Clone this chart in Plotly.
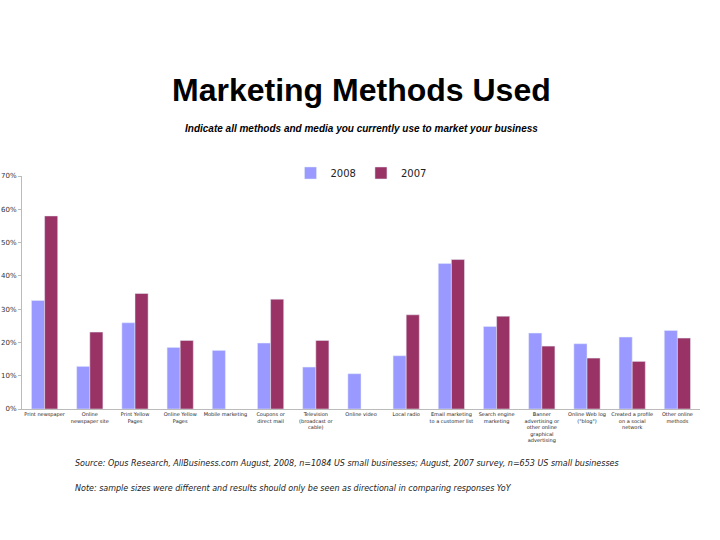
import plotly.graph_objects as go

categories = ["Print newspaper", "Online<br>newspaper site", "Print Yellow<br>Pages",
              "Online Yellow<br>Pages", "Mobile marketing", "Coupons or<br>direct mail",
              "Television<br>(broadcast or<br>cable)", "Online video", "Local radio",
              "Email marketing<br>to a customer list", "Search engine<br>marketing",
              "Banner<br>advertising or<br>other online<br>graphical<br>advertising",
              "Online Web log<br>(\"blog\")", "Created a profile<br>on a social<br>network",
              "Other online<br>methods"]
values_2008 = [32.6, 12.8, 25.9, 18.5, 17.6, 19.8, 12.6, 10.6, 16.0, 43.7, 24.8, 22.8, 19.6, 21.6, 23.6]
values_2007 = [58.0, 23.1, 34.7, 20.6, None, 33.0, 20.6, None, 28.3, 44.9, 27.9, 18.9, 15.3, 14.3, 21.3]

fig = go.Figure()
fig.add_trace(go.Bar(x=categories, y=values_2008, name="2008", marker_color="#9999FF"))
fig.add_trace(go.Bar(x=categories, y=values_2007, name="2007", marker_color="#993366"))

# titles and footnotes (paper coords: 0 = bottom of plot, 1 = top)
note_x = (73 - 22) / 678
fig.add_annotation(text="<b>Marketing Methods Used</b>", x=0.5, y=1.369, xref="paper", yref="paper",
                   yanchor="middle", showarrow=False,
                   font=dict(family="Liberation Sans", size=32, color="black"))
fig.add_annotation(text="<b><i>Indicate all methods and media you currently use to market your business</i></b>",
                   x=0.5, y=1.206, xref="paper", yref="paper", yanchor="middle", showarrow=False,
                   font=dict(family="Liberation Sans", size=10, color="black"))
fig.add_annotation(text="<i>Source: Opus Research, AllBusiness.com August, 2008, n=1084 US small businesses; "
                        "August, 2007 survey, n=653 US small businesses</i>",
                   x=note_x, y=-0.236, xref="paper", yref="paper", xanchor="left", yanchor="middle",
                   showarrow=False, font=dict(family="DejaVu Sans", size=8, color="#222222"))
fig.add_annotation(text="<i>Note: sample sizes were different and results should only be seen as directional "
                        "in comparing responses YoY</i>",
                   x=note_x, y=-0.343, xref="paper", yref="paper", xanchor="left", yanchor="middle",
                   showarrow=False, font=dict(family="DejaVu Sans", size=8, color="#222222"))

fig.update_layout(
    width=720, height=540,
    margin=dict(l=22, r=20, t=176, b=131),
    paper_bgcolor="white", plot_bgcolor="white",
    barmode="group", bargap=0.42, bargroupgap=0,
    showlegend=True,
    legend=dict(orientation="h", x=0.5, xanchor="center", y=1.013, yanchor="middle",
                itemwidth=30, font=dict(family="DejaVu Sans", size=10, color="#222222")),
)
fig.update_xaxes(showline=True, linecolor="#BBBBBB", linewidth=1, ticks="", tickangle=0, automargin=False,
                 tickfont=dict(family="DejaVu Sans", size=5, color="#222222"))
fig.update_yaxes(range=[0, 70], dtick=10, ticksuffix="%", showgrid=False, zeroline=False, automargin=False,
                 showline=True, linecolor="#BBBBBB", linewidth=1, ticks="outside", ticklen=3,
                 tickcolor="#BBBBBB", tickfont=dict(family="DejaVu Sans", size=7, color="#333333"))

# drop the browser's default 8px body margin so the figure sits at the page corner
fig.write_html("out.html", config={"displayModeBar": False},
               post_script="document.body.style.margin = '0';")
